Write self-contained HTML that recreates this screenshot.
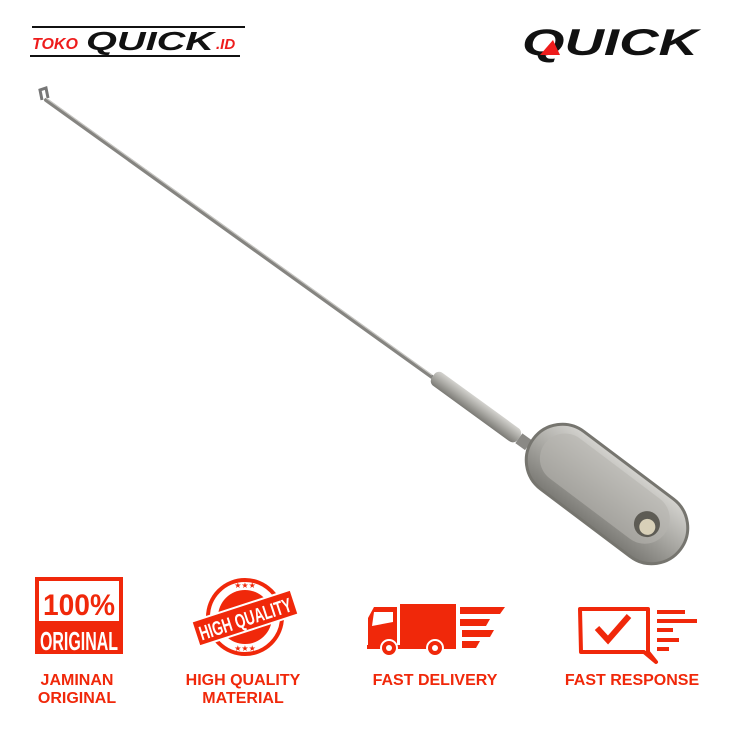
<!DOCTYPE html>
<html><head><meta charset="utf-8"><style>
body{margin:0;width:733px;height:733px;background:#fff;overflow:hidden;position:relative;font-family:"Liberation Sans",sans-serif}
.lbl{position:absolute;color:#f0280a;font-weight:bold;font-size:16px;text-align:center;line-height:18px;font-family:"Liberation Sans Narrow","Liberation Sans",sans-serif}
</style></head><body>
<svg width="733" height="733" style="position:absolute;left:0;top:0">
<defs>
<linearGradient id="m" x1="0" y1="0" x2="0" y2="1"><stop offset="0" stop-color="#d4d3cf"/><stop offset="0.5" stop-color="#a9a8a3"/><stop offset="1" stop-color="#7b7a75"/></linearGradient>
</defs>
<!-- logos -->
<line x1="32" y1="27" x2="245" y2="27" stroke="#111" stroke-width="2"/>
<line x1="30" y1="56" x2="240" y2="56" stroke="#111" stroke-width="2"/>
<text x="32" y="49" font-size="16" font-weight="bold" font-style="italic" fill="#ee1c1c">TOKO</text>
<text x="86" y="50" font-size="26" font-weight="900" font-style="italic" fill="#111" textLength="128" lengthAdjust="spacingAndGlyphs">QUICK</text>
<text x="216" y="49" font-size="15" font-weight="bold" font-style="italic" fill="#ee1c1c">.ID</text>
<text x="522" y="55" font-size="37" font-weight="900" font-style="italic" fill="#111" textLength="176" lengthAdjust="spacingAndGlyphs">QUICK</text>
<polygon points="540,55 553,40 560,55" fill="#ee1c1c"/>
<!-- rod -->
<path d="M42,100 L40,90 L46,88 L48,98" fill="none" stroke="#777" stroke-width="3"/>
<line x1="46" y1="100" x2="432" y2="377" stroke="#858480" stroke-width="4" stroke-linecap="round"/>
<line x1="46" y1="98" x2="432" y2="375" stroke="#c5c4c0" stroke-width="1.2"/>
<g transform="translate(480,410) rotate(36)">
<rect x="-58" y="-8" width="106" height="16" rx="6" fill="url(#m)"/>
<rect x="48" y="-6" width="12" height="12" fill="#8a8985"/>
</g>
<g transform="translate(607,494) rotate(37)">
<rect x="-92" y="-36" width="184" height="72" rx="36" fill="url(#m)" stroke="#76756f" stroke-width="3"/>
<rect x="-80" y="-28" width="150" height="50" rx="25" fill="#b5b4af" opacity="0.6"/>
<circle cx="50" cy="0" r="13" fill="#5e5c55"/>
<circle cx="52" cy="2" r="8" fill="#d8d0b8"/>
</g>
<!-- icon1 -->
<rect x="35" y="577" width="88" height="77" fill="#f0280a"/>
<rect x="39" y="581" width="80" height="40" fill="#fff"/>
<text x="79" y="615" font-size="30" font-weight="bold" fill="#f0280a" text-anchor="middle" textLength="72" lengthAdjust="spacingAndGlyphs">100%</text>
<text x="79" y="650" font-size="26" font-weight="bold" fill="#fff" text-anchor="middle" textLength="78" lengthAdjust="spacingAndGlyphs">ORIGINAL</text>
<!-- icon2 -->
<circle cx="245" cy="617" r="37" fill="none" stroke="#f0280a" stroke-width="4"/>
<circle cx="245" cy="617" r="27" fill="#f0280a"/>
<g transform="translate(245,618) rotate(-18)">
<rect x="-52" y="-13" width="104" height="26" fill="#f0280a" stroke="#fff" stroke-width="2"/>
<text x="0" y="8" font-size="20" font-weight="bold" fill="#fff" text-anchor="middle" textLength="96" lengthAdjust="spacingAndGlyphs">HIGH QUALITY</text>
</g>
<text x="245" y="588" font-size="8" fill="#f0280a" text-anchor="middle">★★★</text>
<text x="245" y="651" font-size="8" fill="#f0280a" text-anchor="middle">★★★</text>
<!-- truck -->
<rect x="400" y="604" width="56" height="42" fill="#f0280a"/>
<path d="M368,648 L368,618 L374,607 L397,607 L397,648 Z" fill="#f0280a"/>
<path d="M372,626 L374,612 L393,612 L393,622 Z" fill="#fff"/>
<rect x="367" y="645" width="89" height="4" fill="#f0280a"/>
<circle cx="389" cy="648" r="8" fill="#f0280a" stroke="#fff" stroke-width="2"/><circle cx="389" cy="648" r="3" fill="#fff"/>
<circle cx="435" cy="648" r="8" fill="#f0280a" stroke="#fff" stroke-width="2"/><circle cx="435" cy="648" r="3" fill="#fff"/>
<polygon points="460,607 505,607 500,614 460,614" fill="#f0280a"/>
<polygon points="460,619 490,619 486,626 460,626" fill="#f0280a"/>
<polygon points="462,630 494,630 490,637 462,637" fill="#f0280a"/>
<polygon points="462,641 480,641 476,648 462,648" fill="#f0280a"/>
<!-- response -->
<path d="M580,609 L648,609 L648,652 L656,662 L644,652 L581,652 Z" fill="none" stroke="#f0280a" stroke-width="4" stroke-linejoin="round"/>
<path d="M597,628 L608,640 L629,616" fill="none" stroke="#f0280a" stroke-width="6"/>
<rect x="657" y="610" width="28" height="4" fill="#f0280a"/>
<rect x="657" y="619" width="40" height="4" fill="#f0280a"/>
<rect x="657" y="628" width="16" height="4" fill="#f0280a"/>
<rect x="657" y="638" width="22" height="4" fill="#f0280a"/>
<rect x="657" y="647" width="12" height="4" fill="#f0280a"/>
</svg>
<div class="lbl" style="left:17px;top:672px;width:120px">JAMINAN<br>ORIGINAL</div>
<div class="lbl" style="left:163px;top:672px;width:160px">HIGH QUALITY<br>MATERIAL</div>
<div class="lbl" style="left:355px;top:672px;width:160px">FAST DELIVERY</div>
<div class="lbl" style="left:552px;top:672px;width:160px">FAST RESPONSE</div>
</body></html>
